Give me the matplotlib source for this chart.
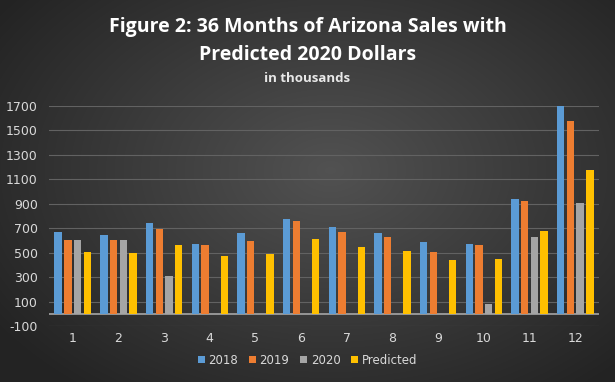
import matplotlib.pyplot as plt
import numpy as np

plt.rcParams["axes.unicode_minus"] = False

months = [str(m) for m in range(1, 13)]
sales_2018 = [666, 642, 743, 571, 661, 778, 713, 661, 590, 573, 942, 1699]
sales_2019 = [606, 606, 696, 560, 598, 762, 672, 625, 508, 560, 923, 1579]
sales_2020 = [604, 606, 311, 0, 0, 0, 0, 0, 0, 82, 625, 907]
predicted = [502, 497, 565, 470, 486, 612, 546, 516, 440, 451, 677, 1174]

series = [("2018", sales_2018, "#5b9bd5"),
          ("2019", sales_2019, "#ed7d31"),
          ("2020", sales_2020, "#a5a5a5"),
          ("Predicted", predicted, "#ffc000")]

fig = plt.figure(figsize=(6.15, 3.82), dpi=100)

# radial dark background like the Excel chart style
bg = fig.add_axes([0, 0, 1, 1], zorder=-10)
yy, xx = np.mgrid[0:382, 0:615]
r = np.sqrt(((xx - 330) / 380.0) ** 2 + ((yy - 170) / 260.0) ** 2)
shade = np.clip(0.32 - 0.17 * r, 0.14, 0.33)
bg.imshow(np.dstack([shade] * 3), aspect="auto", extent=[0, 1, 0, 1])
bg.set_axis_off()

ax = fig.add_axes([49 / 615, 1 - 326 / 382, 550 / 615, 220 / 382])
ax.patch.set_alpha(0)

x = np.arange(len(months))
pitch = 0.212
width = 0.165
for i, (name, vals, col) in enumerate(series):
    v = np.array(vals, dtype=float)
    v[v == 0] = np.nan
    ax.bar(x + (i - 1.5) * pitch, v, width=width, color=col, label=name, zorder=3)

ax.set_xlim(-0.52, 11.52)
ax.set_ylim(-100, 1700)
ax.set_yticks(np.arange(-100, 1701, 200))
ax.set_xticks(x)
ax.set_xticklabels(months)
ax.grid(axis="y", color="#626262", lw=0.8, zorder=0)
ax.axhline(0, color="#a6a6a6", lw=1.2, zorder=2)
for s in ax.spines.values():
    s.set_visible(False)
ax.tick_params(length=0, colors="#d9d9d9", labelsize=9)
ax.tick_params(axis="y", pad=8)
ax.tick_params(axis="x", pad=4)

fig.text(0.5, 1 - 27 / 382, "Figure 2: 36 Months of Arizona Sales with",
         ha="center", va="center", color="white", fontsize=14, fontweight="bold",
         family="Open Sans")
fig.text(0.5, 1 - 55 / 382, "Predicted 2020 Dollars",
         ha="center", va="center", color="white", fontsize=14, fontweight="bold",
         family="Open Sans")
fig.text(0.5, 1 - 79 / 382, "in thousands",
         ha="center", va="center", color="#e8e8e8", fontsize=9.5, fontweight="bold",
         family="Open Sans")

leg = fig.legend(loc="center", bbox_to_anchor=(0.5, 1 - 360 / 382), ncol=4,
                 frameon=False, fontsize=8.5, handlelength=0.6, handleheight=0.6,
                 handletextpad=0.3, columnspacing=0.9)
for t in leg.get_texts():
    t.set_color("#d9d9d9")

fig.savefig("out.png", dpi=100)
